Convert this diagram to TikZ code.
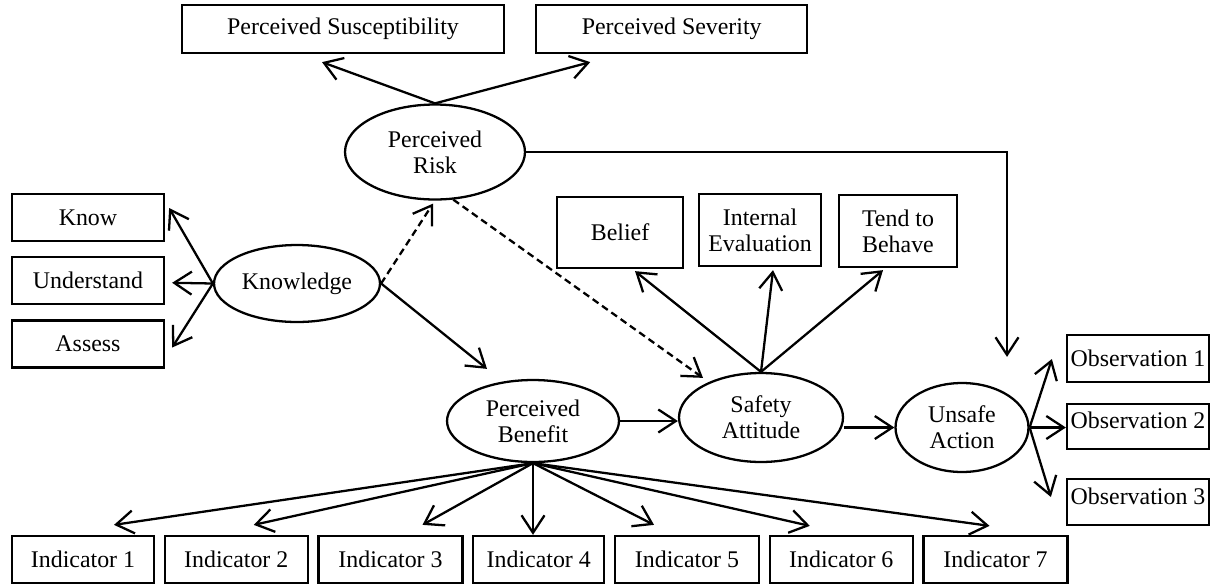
\documentclass[tikz,border=0pt]{standalone}
\usepackage{fontspec}
\setmainfont{Liberation Serif}
\usetikzlibrary{arrows.meta,positioning,shapes.geometric,calc}

\begin{document}
\begin{tikzpicture}[x=0.02cm, y=-0.02cm,
        font=\fontsize{13.6}{15}\selectfont,
        box/.style={draw, line width=1.3pt, rectangle, inner sep=0pt, align=center},
        latent/.style={draw, line width=1.3pt, ellipse, inner sep=0pt, align=center},
        arr/.style={-{Straight Barb[length=3.5mm,width=4.6mm]}, line width=1.3pt},
        dasharr/.style={arr, dash pattern=on 4pt off 2.5pt}]
        \useasboundingbox (0,0) rectangle (1212,585);

        \node (PSus) [box, minimum width=6.44cm, minimum height=.96cm] at (343, 29) {Perceived Susceptibility};
        \node (PSev) [box, minimum width=5.42cm, minimum height=.96cm, right=.6cm of PSus] {Perceived Severity};
        \node (PR) [latent, minimum width=3.6cm, minimum height=1.9cm] at (435, 152) {Perceived\\Risk};

        \node (Knowledge) [latent, minimum width=3.32cm, minimum height=1.54cm] at (297, 283.5) {Knowledge};
        \node (Know) [box, minimum width=3.04cm, minimum height=.94cm] at (88, 217.5) {Know};
        \node (Understand) [box, minimum width=3.04cm, minimum height=.94cm, below=.28cm of Know] {Understand};
        \node (Assess) [box, minimum width=3.04cm, minimum height=.94cm, below=.28cm of Understand] {Assess};

        \node (Belief) [box, minimum width=2.52cm, minimum height=1.42cm] at (620, 232.5) {Belief};
        \node (IE) [box, minimum width=2.44cm, minimum height=1.44cm] at (760, 230) {Internal\\Evaluation};
        \node (Tend) [box, minimum width=2.36cm, minimum height=1.44cm] at (898, 231) {Tend to\\Behave};

        \node (PB) [latent, minimum width=3.44cm, minimum height=1.64cm] at (533, 421) {Perceived\\Benefit};
        \node (Safety) [latent, minimum width=3.28cm, minimum height=1.78cm] at (761, 417.5) {Safety\\Attitude};
        \node (Unsafe) [latent, minimum width=2.66cm, minimum height=1.78cm] at (962, 427.5) {Unsafe\\Action};

        \node (Obs1) [box, minimum width=2.84cm, minimum height=.94cm] at (1138, 358.5) {Observation 1};
        \node (Obs2) [box, minimum width=2.84cm, minimum height=.9cm, text depth=.24cm] at (1138, 426.5) {Observation 2};
        \node (Obs3) [box, minimum width=2.84cm, minimum height=.92cm, text depth=.24cm] at (1138, 502) {Observation 3};

        \node (Ind1) [box, minimum width=2.84cm, minimum height=.94cm] at (83, 559.5) {Indicator 1};
        \node (Ind2) [box, minimum width=2.86cm, minimum height=.94cm, right=.17cm of Ind1] {Indicator 2};
        \node (Ind3) [box, minimum width=2.88cm, minimum height=.94cm, right=.17cm of Ind2] {Indicator 3};
        \node (Ind4) [box, minimum width=2.62cm, minimum height=.94cm, right=.17cm of Ind3] {Indicator 4};
        \node (Ind5) [box, minimum width=2.88cm, minimum height=.94cm, right=.17cm of Ind4] {Indicator 5};
        \node (Ind6) [box, minimum width=2.86cm, minimum height=.94cm, right=.17cm of Ind5] {Indicator 6};
        \node (Ind7) [box, minimum width=2.88cm, minimum height=.94cm, right=.17cm of Ind6] {Indicator 7};

        \draw[arr] (PR.north) -- ($(PSus.south)+(-21, 8)$);
        \draw[arr] (PR.north) -- ($(PSev.south)+(-81.5, 8)$);
        \draw[arr] (PR.east) -| ($(Unsafe.north)+(45, -25)$);

        \draw[arr] (Knowledge.west) -- ($(Know.east)+(4, -9.5)$);
        \draw[arr] (Knowledge.west) -- ($(Understand.east)+(7, 2)$);
        \draw[arr] (Knowledge.west) -- ($(Assess.east)+(7, 3.5)$);
        \draw[dasharr] (Knowledge.east) -- ($(PR.south)+(-2, 3)$);
        \draw[arr] (Knowledge.east) -- ($(PB.north)+(-46, -10)$);

        \draw[dasharr] (PR.-69) -- ($(Safety.north)+(-58, 6)$);
        \draw[arr] (Safety.north) -- ($(Belief.south)+(15, 2)$);
        \draw[arr] (Safety.north) -- ($(IE.south)+(13, 3)$);
        \draw[arr] (Safety.north) -- ($(Tend.south)+(-15, 2)$);

        \draw[arr] (PB.east) -- (PB.east -| Safety.west);
        \draw[arr] (Safety.east |- Unsafe.west) -- (Unsafe.west);
        \draw[arr] (Unsafe.east) -- ($(Obs1.west)+(-14, .5)$);
        \draw[arr] (Unsafe.east) -- (Unsafe.east -| Obs2.west);
        \draw[arr] (Unsafe.east) -- ($(Obs3.west)+(-15, -5)$);

        \draw[arr] (PB.south) -- ($(Ind1.north)+(31, -10)$);
        \draw[arr] (PB.south) -- ($(Ind2.north)+(17.5, -10)$);
        \draw[arr] (PB.south) -- ($(Ind3.north)+(32, -10)$);
        \draw[arr] (PB.south) -- (PB.south |- Ind4.north);
        \draw[arr] (PB.south) -- ($(Ind5.north)+(-33, -10)$);
        \draw[arr] (PB.south) -- ($(Ind6.north)+(-31.5, -9)$);
        \draw[arr] (PB.south) -- ($(Ind7.north)+(-6, -9)$);
      \end{tikzpicture}
\end{document}
